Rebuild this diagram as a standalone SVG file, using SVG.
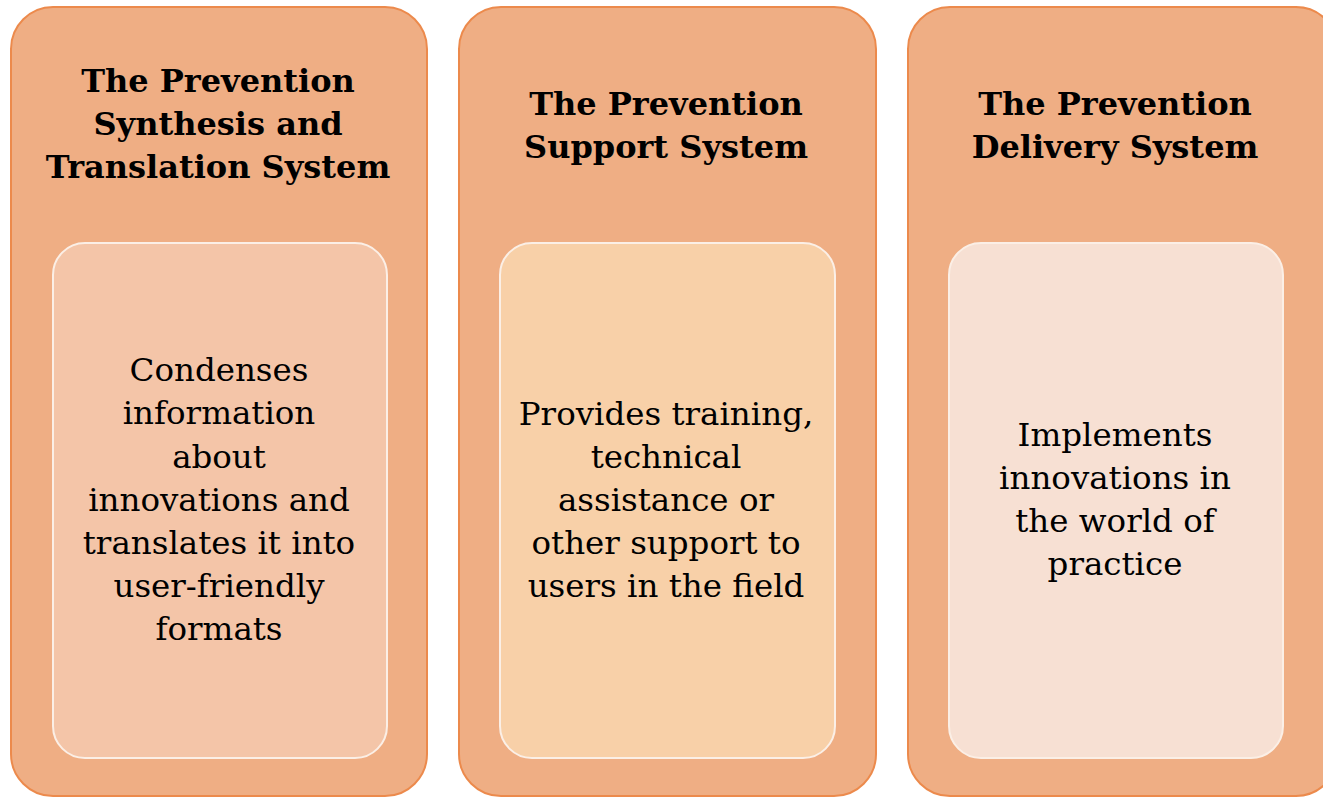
<svg xmlns="http://www.w3.org/2000/svg" width="1323" height="798" viewBox="0 0 1323 798">
<style>
.outer{fill:#EFAE84;stroke:#EC8A4C;stroke-width:2}
.inner{stroke:#FBEFE6;stroke-width:2}
.title{font-family:"DejaVu Serif","Liberation Serif",serif;font-weight:bold;font-size:32px;fill:#000;text-anchor:middle}
.body{font-family:"DejaVu Serif","Liberation Serif",serif;font-size:32.5px;fill:#000;text-anchor:middle}
</style>
<rect width="1323" height="798" fill="#ffffff"/>
<g id="node-synthesis">
<rect class="outer" x="11" y="7" width="416" height="789" rx="42"/>
<rect class="inner" x="53" y="243" width="334" height="515" rx="32" fill="#F4C5A8"/>
<text class="title" x="218" y="92">The Prevention</text>
<text class="title" x="218" y="135">Synthesis and</text>
<text class="title" x="218" y="178">Translation System</text>
<text class="body" x="219" y="381">Condenses</text>
<text class="body" x="219" y="424">information</text>
<text class="body" x="219" y="468">about</text>
<text class="body" x="219" y="511">innovations and</text>
<text class="body" x="219" y="554">translates it into</text>
<text class="body" x="219" y="597">user-friendly</text>
<text class="body" x="219" y="640">formats</text>
</g>
<g id="node-support">
<rect class="outer" x="459" y="7" width="417" height="789" rx="42"/>
<rect class="inner" x="500" y="243" width="335" height="515" rx="32" fill="#F8D0A8"/>
<text class="title" x="666" y="115">The Prevention</text>
<text class="title" x="666" y="158">Support System</text>
<text class="body" x="666" y="425">Provides training,</text>
<text class="body" x="666" y="468">technical</text>
<text class="body" x="666" y="511">assistance or</text>
<text class="body" x="666" y="554">other support to</text>
<text class="body" x="666" y="597">users in the field</text>
</g>
<g id="node-delivery">
<rect class="outer" x="908" y="7" width="430" height="789" rx="42"/>
<rect class="inner" x="949" y="243" width="334" height="515" rx="32" fill="#F7E0D3"/>
<text class="title" x="1115" y="115">The Prevention</text>
<text class="title" x="1115" y="158">Delivery System</text>
<text class="body" x="1115" y="446">Implements</text>
<text class="body" x="1115" y="489">innovations in</text>
<text class="body" x="1115" y="532">the world of</text>
<text class="body" x="1115" y="575">practice</text>
</g>
<g id="connectors"/>
</svg>
